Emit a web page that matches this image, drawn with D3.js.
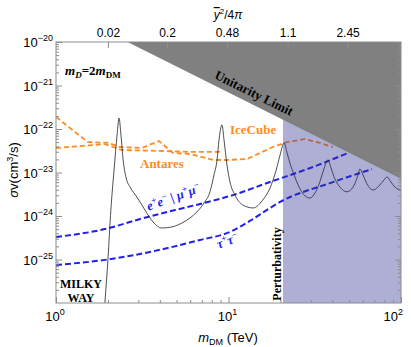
<!DOCTYPE html>
<html>
<head>
<meta charset="utf-8">
<script src="https://cdn.jsdelivr.net/npm/d3@7"></script>
<style>
body { margin: 0; background: #fff; }
svg { display: block; font-family: "Liberation Sans", Arial, sans-serif; }
.serif { font-family: "Liberation Serif", "Times New Roman", serif; font-weight: bold; }
.tick line { stroke: #8c8c8c; }
</style>
</head>
<body>
<div id="chart"></div>
<script>
// resonance curve (black), mass in TeV, <sigma v> in cm^3/s
const blackMass = [1.92, 2.00, 2.08, 2.17, 2.26, 2.32, 2.38, 2.45, 2.55, 2.69, 2.95, 3.28, 3.65, 4.11, 4.70, 5.37, 5.98, 6.56, 7.21, 7.81, 8.24, 8.58, 8.81, 9.17, 9.42, 9.80, 10.2, 10.9, 12.1, 13.9, 15.8, 17.4, 18.9, 19.9, 21.0, 21.8, 22.7, 24.0, 25.3, 27.8, 29.7, 31.7, 33.5, 35.3, 37.7, 39.3, 40.9, 44.3, 48.6, 52.7, 55.6, 57.8, 60.2, 62.7, 68.8, 75.5, 79.6, 83.0, 87.5, 92.3, 100];
const blackSigma = [1.0e-26, 9.8e-26, 1.37e-24, 1.14e-23, 7.3e-23, 1.79e-22, 7.3e-23, 1.94e-23, 7.5e-24, 4.6e-24, 2.7e-24, 1.37e-24, 7.3e-25, 5.3e-25, 5.6e-25, 6.9e-25, 9.0e-25, 1.24e-24, 1.99e-24, 3.6e-24, 8.8e-24, 1.94e-23, 5.6e-23, 1.24e-22, 5.6e-23, 1.49e-23, 6.05e-24, 3.04e-24, 1.79e-24, 1.53e-24, 2.33e-24, 4.4e-24, 1.14e-23, 2.52e-23, 4.8e-23, 2.96e-23, 1.65e-23, 8.8e-24, 5.2e-24, 2.88e-24, 2.59e-24, 3.38e-24, 5.4e-24, 1.03e-23, 1.94e-23, 1.27e-23, 7.9e-24, 4.6e-24, 3.6e-24, 4.6e-24, 7.5e-24, 1.2e-23, 8.8e-24, 6.05e-24, 3.96e-24, 5.2e-24, 6.7e-24, 7.9e-24, 6.05e-24, 4.6e-24, 3.96e-24];

// neutrino telescope limits (orange)
const iceMass = [1, 1.53, 2.0, 2.35, 3.15, 3.95, 4.77, 5.98, 8.13, 9.8, 12.8, 18.1, 21.8, 27.8, 32.6, 40.3];
const iceSigma = [1.89e-22, 5.0e-23, 4.8e-23, 3.86e-23, 3.66e-23, 5.3e-23, 2.81e-23, 2.66e-23, 1.94e-23, 1.94e-23, 2.04e-23, 3.86e-23, 5.0e-23, 5.9e-23, 5.0e-23, 3.86e-23];
const antMass = [1, 1.92, 2.41, 4.28, 5.98, 9.17];
const antSigma = [3.66e-23, 4.5e-23, 3.29e-23, 3.12e-23, 2.98e-23, 2.98e-23];

// milky way limits (blue)
const eeMass = [1, 1.92, 3.07, 4.90, 6.84, 10.2, 17.4, 30.9, 49.3];
const eeSigma = [3.29e-25, 5.0e-25, 8.5e-25, 1.37e-24, 1.89e-24, 2.88e-24, 6.05e-24, 1.34e-23, 2.81e-23];
const tauMass = [1, 1.92, 3.07, 6.84, 10.2, 13.3, 17.4, 19.9, 38.8, 67.9];
const tauSigma = [7.5e-26, 9.8e-26, 1.34e-25, 2.81e-25, 4.29e-25, 7.7e-25, 1.53e-24, 2.10e-24, 5.7e-24, 1.2e-23];

// unitarity limit end points and perturbativity bound
const unitarityMass = [2.6, 100];
const unitaritySigma = [1e-20, 7.2e-24];
const perturbativityMass = 20.7;

// top axis (coupling)
const topTickMass = [2, 4.4, 9.8, 22, 49];
const topTickLabels = ['0.02', '0.2', '0.48', '1.1', '2.45'];

const xDomain = [1, 100];
const yDomain = [1e-26, 1e-20];

const orange = '#ff8c1e';
const blue = '#1f1ff0';

const svg = d3.select('#chart').append('svg')
.attr('width', 411)
.attr('height', 347);

const x = d3.scaleLog().domain(xDomain).range([56, 401]);
const y = d3.scaleLog().domain(yDomain).range([303, 42]);

svg.append('clipPath').attr('id', 'plot-clip')
.append('rect')
.attr('x', 56).attr('y', 42)
.attr('width', 345).attr('height', 261);

const plot = svg.append('g').attr('clip-path', 'url(#plot-clip)');

const zip = (ms, ss) => ms.map((m, i) => [m, ss[i]]);

const line = d3.line().x(d => x(d[0])).y(d => y(d[1]));
const smooth = d3.line().x(d => x(d[0])).y(d => y(d[1])).curve(d3.curveMonotoneX);

// orange dashed
plot.append('path')
.attr('d', line(zip(antMass, antSigma)))
.attr('fill', 'none').attr('stroke', orange)
.attr('stroke-width', 1.8).attr('stroke-dasharray', '5,3');

plot.append('path')
.attr('d', line(zip(iceMass, iceSigma)))
.attr('fill', 'none').attr('stroke', orange)
.attr('stroke-width', 1.8).attr('stroke-dasharray', '5,3');

// blue dashed
plot.append('path')
.attr('d', smooth(zip(eeMass, eeSigma)))
.attr('fill', 'none').attr('stroke', blue)
.attr('stroke-width', 2).attr('stroke-dasharray', '6,3');

plot.append('path')
.attr('d', smooth(zip(tauMass, tauSigma)))
.attr('fill', 'none').attr('stroke', blue)
.attr('stroke-width', 2).attr('stroke-dasharray', '6,3');

// black resonance curve
plot.append('path')
.attr('d', smooth(zip(blackMass, blackSigma)))
.attr('fill', 'none').attr('stroke', '#222')
.attr('stroke-width', 0.8);

// perturbativity band (translucent, over the lines)
plot.append('rect')
.attr('x', x(perturbativityMass))
.attr('y', y(yDomain[1]))
.attr('width', x(xDomain[1]) - x(perturbativityMass))
.attr('height', y(yDomain[0]) - y(yDomain[1]))
.attr('fill', 'rgb(50,50,150)')
.attr('fill-opacity', 0.39);

// unitarity region
plot.append('path')
.attr('d', d3.line()([
	[x(unitarityMass[0]), y(unitaritySigma[0])],
	[x(unitarityMass[1]), y(yDomain[1])],
	[x(unitarityMass[1]), y(unitaritySigma[1])]
]) + 'Z')
.attr('fill', '#808080');

// axes
const isMajor = v => Math.abs(Math.log10(v) - Math.round(Math.log10(v))) < 1e-6;
const majorX = x.ticks().filter(isMajor);
const minorX = x.ticks().filter(v => !isMajor(v));
const majorY = y.ticks().filter(isMajor);
const minorY = y.ticks().filter(v => !isMajor(v));

const styleAxis = g => {
	g.select('.domain').remove();
	g.selectAll('text').remove();
};

svg.append('g').attr('transform', 'translate(0,303)')
.call(d3.axisBottom(x).tickValues(majorX).tickSize(-6)).call(styleAxis);
svg.append('g').attr('transform', 'translate(0,303)')
.call(d3.axisBottom(x).tickValues(minorX).tickSize(-3)).call(styleAxis);

svg.append('g').attr('transform', 'translate(56,0)')
.call(d3.axisLeft(y).tickValues(majorY).tickSize(-6)).call(styleAxis);
svg.append('g').attr('transform', 'translate(56,0)')
.call(d3.axisLeft(y).tickValues(minorY).tickSize(-3)).call(styleAxis);

svg.append('g').attr('transform', 'translate(401,0)')
.call(d3.axisRight(y).tickValues(majorY).tickSize(-6)).call(styleAxis);
svg.append('g').attr('transform', 'translate(401,0)')
.call(d3.axisRight(y).tickValues(minorY).tickSize(-3)).call(styleAxis);

const topAxis = svg.append('g').attr('transform', 'translate(0,42)')
.call(d3.axisTop(x).tickValues(topTickMass).tickSize(-6).tickPadding(5)
	.tickFormat((d, i) => topTickLabels[i]));
topAxis.select('.domain').remove();
topAxis.selectAll('text')
.attr('font-size', 12)
.attr('font-family', '"Liberation Sans", Arial, sans-serif')
.attr('fill', '#000');

svg.append('rect')
.attr('x', 56).attr('y', 42)
.attr('width', 345).attr('height', 261)
.attr('fill', 'none').attr('stroke', '#8c8c8c').attr('stroke-width', 1);

// power-of-ten labels
const powLabel = (sel, exp) => {
	sel.append('tspan').text('10');
	sel.append('tspan').attr('dy', -6).attr('font-size', 9).text(exp);
};

majorY.forEach(v => {
	const e = Math.round(Math.log10(v));
	svg.append('text')
	.attr('x', 53).attr('y', y(v) + 5)
	.attr('text-anchor', 'end')
	.attr('font-size', 13)
	.call(powLabel, '\u2212' + Math.abs(e));
});

majorX.forEach((v, i) => {
	const e = Math.round(Math.log10(v));
	svg.append('text')
	.attr('x', i == majorX.length - 1 ? x(v) + 2 : x(v) - 1)
	.attr('y', 321)
	.attr('text-anchor', i == majorX.length - 1 ? 'end' : 'middle')
	.attr('font-size', 13)
	.call(powLabel, String(e));
});

// axis titles
const yTitle = svg.append('text')
.attr('transform', 'translate(18,170) rotate(-90)')
.attr('text-anchor', 'middle')
.attr('font-size', 13);
yTitle.append('tspan').attr('font-style', 'italic').text('\u03c3');
yTitle.append('tspan').text('v(cm');
yTitle.append('tspan').attr('dy', -5).attr('font-size', 9).text('3');
yTitle.append('tspan').attr('dy', 5).text('/s)');

const xTitle = svg.append('text')
.attr('x', 228).attr('y', 342)
.attr('text-anchor', 'middle')
.attr('font-size', 13);
xTitle.append('tspan').attr('font-style', 'italic').text('m');
xTitle.append('tspan').attr('dy', 3).attr('font-size', 9).text('DM');
xTitle.append('tspan').attr('dy', -3).text(' (TeV)');

const topTitle = svg.append('text')
.attr('x', 228).attr('y', 19)
.attr('text-anchor', 'middle')
.attr('font-size', 12);
topTitle.append('tspan').attr('font-style', 'italic').style('text-decoration', 'overline').text('y');
topTitle.append('tspan').attr('dy', -5).attr('font-size', 8).text('2');
topTitle.append('tspan').attr('dy', 5).text('/4');
topTitle.append('tspan').attr('font-style', 'italic').text('\u03c0');

// annotations
const mD = svg.append('text').attr('class', 'serif')
.attr('x', 65).attr('y', 75)
.attr('font-size', 13);
mD.append('tspan').attr('font-style', 'italic').text('m');
mD.append('tspan').attr('font-style', 'italic').attr('dy', 3).attr('font-size', 9).text('D');
mD.append('tspan').attr('dy', -3).text('=2');
mD.append('tspan').attr('font-style', 'italic').text('m');
mD.append('tspan').attr('dy', 3).attr('font-size', 9).text('DM');

svg.append('text').attr('class', 'serif')
.attr('transform', 'translate(252,97) rotate(26.3)')
.attr('text-anchor', 'middle')
.attr('font-size', 13)
.text('Unitarity Limit');

svg.append('text').attr('class', 'serif')
.attr('x', 230).attr('y', 134)
.attr('font-size', 13)
.attr('fill', orange)
.text('IceCube');

svg.append('text').attr('class', 'serif')
.attr('x', 140).attr('y', 168)
.attr('font-size', 13)
.attr('fill', orange)
.text('Antares');

const ee = svg.append('text').attr('class', 'serif')
.attr('transform', 'translate(175,201) rotate(-20)')
.attr('text-anchor', 'middle')
.attr('font-size', 13)
.attr('font-style', 'italic')
.attr('fill', blue);
ee.append('tspan').text('e');
ee.append('tspan').attr('dy', -5).attr('font-size', 9).text('+');
ee.append('tspan').attr('dy', 5).text('e');
ee.append('tspan').attr('dy', -5).attr('font-size', 9).text('\u2212');
ee.append('tspan').attr('dy', 5).text(' | \u03bc');
ee.append('tspan').attr('dy', -5).attr('font-size', 9).text('+');
ee.append('tspan').attr('dy', 5).text('\u03bc');
ee.append('tspan').attr('dy', -5).attr('font-size', 9).text('\u2212');

const tau = svg.append('text').attr('class', 'serif')
.attr('transform', 'translate(229,245) rotate(-20)')
.attr('text-anchor', 'middle')
.attr('font-size', 13)
.attr('font-style', 'italic')
.attr('fill', blue);
tau.append('tspan').text('\u03c4');
tau.append('tspan').attr('dy', -5).attr('font-size', 9).text('+');
tau.append('tspan').attr('dy', 5).text('\u03c4');
tau.append('tspan').attr('dy', -5).attr('font-size', 9).text('\u2212');

svg.append('text').attr('class', 'serif')
.attr('transform', 'translate(281,264) rotate(-90)')
.attr('text-anchor', 'middle')
.attr('font-size', 12)
.text('Perturbativity');

svg.append('text').attr('class', 'serif')
.attr('x', 81).attr('y', 288)
.attr('text-anchor', 'middle')
.attr('font-size', 12)
.text('MILKY');
svg.append('text').attr('class', 'serif')
.attr('x', 81).attr('y', 302)
.attr('text-anchor', 'middle')
.attr('font-size', 12)
.text('WAY');
</script>
</body>
</html>
